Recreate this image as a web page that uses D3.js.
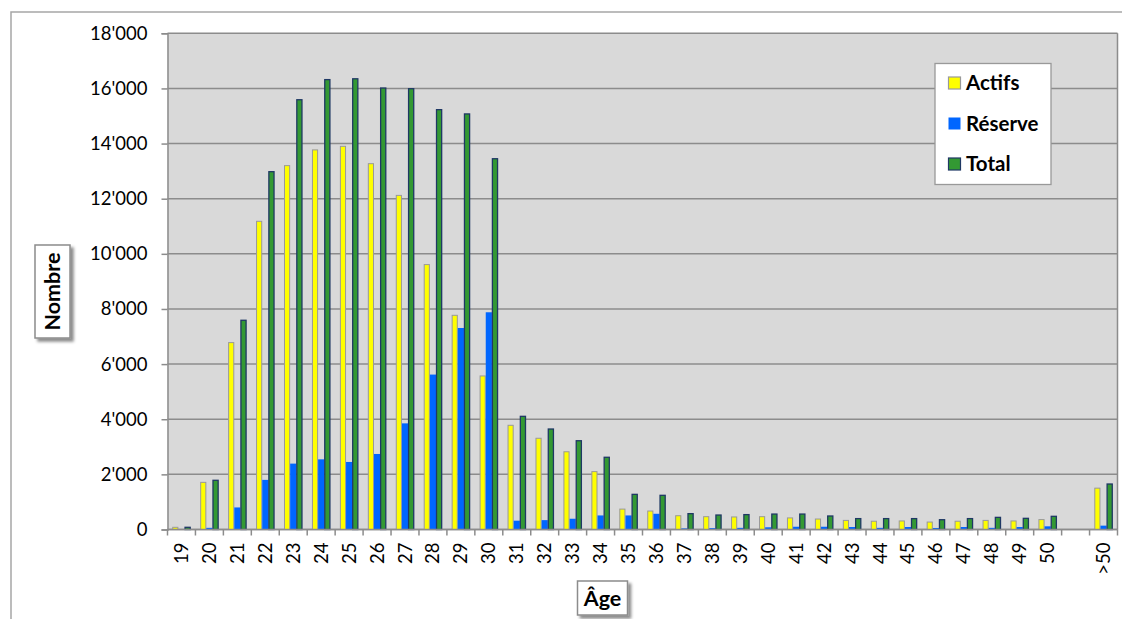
<!DOCTYPE html>
<html>
<head>
<meta charset="utf-8">
<script src="https://cdn.jsdelivr.net/npm/d3@7"></script>
<style>
  html, body { margin: 0; padding: 0; background: #fff; }
  svg { display: block; font-family: Lato, "Open Sans", sans-serif; }
</style>
</head>
<body>
<svg id="chart" width="1122" height="619"></svg>
<script>
// ---- data ----
const categories = ["19","20","21","22","23","24","25","26","27","28","29","30","31","32","33","34","35","36","37","38","39","40","41","42","43","44","45","46","47","48","49","50","",">50"];
const actifs  = [80,1710,6780,11180,13200,13770,13900,13270,12120,9610,7770,5570,3780,3310,2820,2100,740,670,500,465,455,465,420,380,330,300,310,270,300,330,310,360,null,1500];
const reserve = [10,60,800,1800,2390,2545,2450,2740,3850,5620,7310,7880,320,340,390,510,510,570,40,50,60,80,100,100,90,60,90,55,90,60,90,115,null,140];
const total   = [80,1785,7590,12980,15590,16320,16350,16015,15990,15230,15075,13450,4105,3645,3220,2620,1275,1240,575,525,540,560,560,490,395,395,395,355,395,440,405,478,null,1650];
const seriesNames = ["Actifs","Réserve","Total"];
const yTicks = [0,2000,4000,6000,8000,10000,12000,14000,16000,18000];

const colors = {Actifs:"#FFFF00", "Réserve":"#0066FF", Total:"#339933"};
const strokes = {Actifs:"#999999", "Réserve":"none", Total:"#1F3864"};

const svg = d3.select("#chart");
const L = 167.5, R = 1117.5, T = 33.3, B = 529.5;

// drop shadow filter
const defs = svg.append("defs");
const f = defs.append("filter").attr("id","shadow").attr("x","-30%").attr("y","-30%").attr("width","160%").attr("height","160%");
f.append("feDropShadow").attr("dx",3).attr("dy",3).attr("stdDeviation",1.6).attr("flood-color","#000").attr("flood-opacity",0.45);

// outer chart border
svg.append("rect").attr("x",11).attr("y",12).attr("width",1130).attr("height",640)
  .attr("fill","#fff").attr("stroke","#a6a6a6").attr("stroke-width",1.5);

const x = d3.scaleBand().domain(categories.map((c,i)=>i)).range([L,R]).padding(0);
const x1 = d3.scaleBand().domain(seriesNames).range([0, x.bandwidth()]).paddingInner(0).paddingOuter(0.77);
const y = d3.scaleLinear().domain([0,18000]).range([B,T]);

// plot background
svg.append("rect").attr("x",L).attr("y",T).attr("width",R-L).attr("height",B-T).attr("fill","#D9D9D9");

// gridlines
svg.append("g").selectAll("line").data(yTicks).join("line")
  .attr("x1",L).attr("x2",R).attr("y1",d=>y(d)).attr("y2",d=>y(d))
  .attr("stroke","#8C8C8C").attr("stroke-width",1.5);
// right border of plot
svg.append("line").attr("x1",R).attr("x2",R).attr("y1",T).attr("y2",B).attr("stroke","#8C8C8C").attr("stroke-width",1.5);

// bars
const data = {Actifs:actifs, "Réserve":reserve, Total:total};
seriesNames.forEach(s => {
  svg.append("g").selectAll("rect").data(data[s].map((v,i)=>({v,i})).filter(d=>d.v!==null)).join("rect")
    .attr("x", d => x(d.i) + x1(s) + (strokes[s]==="none"?0:0.5))
    .attr("width", x1.bandwidth() - (strokes[s]==="none"?0:1))
    .attr("y", d => y(d.v))
    .attr("height", d => Math.max(0, B - y(d.v)))
    .attr("fill", colors[s])
    .attr("stroke", strokes[s])
    .attr("stroke-width", s==="Total"?1.3:1);
});

// y axis
const yAxis = d3.axisLeft(y).tickValues(yTicks).tickSize(6).tickPadding(14)
  .tickFormat(d => d3.format(",")(d).replace(/,/g,"'"));
const gy = svg.append("g").attr("transform",`translate(${L},0)`).call(yAxis);
gy.select(".domain").attr("stroke","#8C8C8C").attr("stroke-width",1.5);
gy.selectAll(".tick line").attr("stroke","#8C8C8C").attr("stroke-width",1.5);
gy.selectAll("text").attr("font-size",18.5).attr("fill","#000").attr("font-family","Lato");

// x axis
const gx = svg.append("g").attr("transform",`translate(0,${B})`);
gx.append("line").attr("x1",L).attr("x2",R).attr("stroke","#8C8C8C").attr("stroke-width",1.5);
const tickPos = d3.range(categories.length+1).map(i => L + i*x.step());
gx.selectAll("line.t").data(tickPos).join("line").attr("class","t")
  .attr("x1",d=>d).attr("x2",d=>d).attr("y1",0).attr("y2",6)
  .attr("stroke","#8C8C8C").attr("stroke-width",1.5);
gx.selectAll("text").data(categories.map((c,i)=>({c,i})).filter(d=>d.c!=="")).join("text")
  .attr("transform", d => `translate(${x(d.i)+x.bandwidth()/2+6.5},13) rotate(-90)`)
  .attr("text-anchor","end")
  .attr("font-size",18.5).attr("font-family","Lato").attr("fill","#000")
  .text(d=>d.c);

// axis titles
function titleBox(cx, cy, w, h, text, rotate) {
  const g = svg.append("g").attr("transform",`translate(${cx},${cy})`);
  g.append("rect").attr("x",-w/2).attr("y",-h/2).attr("width",w).attr("height",h)
    .attr("fill","#fff").attr("stroke","#8C8C8C").attr("stroke-width",1.5).attr("filter","url(#shadow)");
  g.append("text").attr("transform", rotate ? "rotate(-90)" : null)
    .attr("text-anchor","middle").attr("dy","0.36em")
    .attr("font-size",21.5).attr("font-weight","bold").attr("font-family","Lato").attr("fill","#000")
    .text(text);
}
titleBox(52.5, 291.5, 35, 93, "Nombre", true);
titleBox(602.5, 598, 50, 34, "Âge", false);

// legend
const lg = svg.append("g");
lg.append("rect").attr("x",935).attr("y",63.5).attr("width",116).attr("height",121)
  .attr("fill","#fff").attr("stroke","#999").attr("stroke-width",1.3);
const ly = [83, 123.5, 164];
seriesNames.forEach((s,i) => {
  lg.append("rect").attr("x",948.5).attr("y",ly[i]-6).attr("width",12).attr("height",12)
    .attr("fill",colors[s]).attr("stroke",strokes[s]).attr("stroke-width",1.2);
  lg.append("text").attr("x",966).attr("y",ly[i]).attr("dy","0.36em")
    .attr("font-size",20.5).attr("font-weight","bold").attr("font-family","Lato").attr("fill","#000")
    .text(s);
});
</script>
</body>
</html>
